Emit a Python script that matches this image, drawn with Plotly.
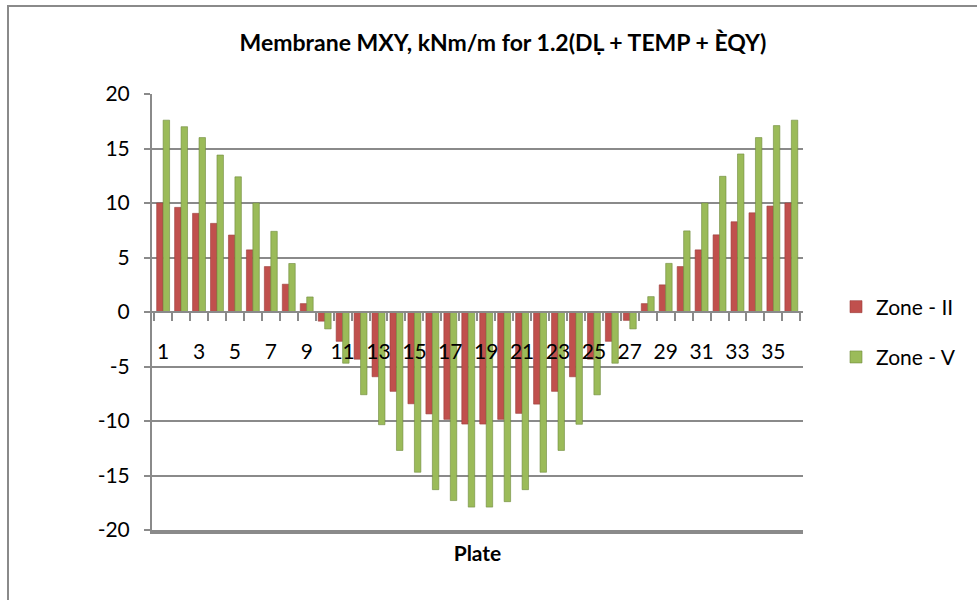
import plotly.graph_objects as go

plates = list(range(1, 37))
zone_ii = [10.0, 9.6, 9.05, 8.13, 7.06, 5.7, 4.17, 2.55, 0.77,
           -0.84, -2.69, -4.33, -5.94, -7.28, -8.42, -9.35, -9.85, -10.28,
           -10.28, -9.85, -9.3, -8.45, -7.28, -5.94, -4.33, -2.69, -0.77,
           0.77, 2.49, 4.17, 5.7, 7.08, 8.28, 9.1, 9.72, 10.0]
zone_v = [17.6, 17.0, 16.0, 14.4, 12.4, 10.0, 7.4, 4.45, 1.38,
          -1.55, -4.7, -7.59, -10.34, -12.7, -14.7, -16.3, -17.3, -17.9,
          -17.9, -17.4, -16.3, -14.7, -12.7, -10.3, -7.6, -4.7, -1.55,
          1.41, 4.46, 7.44, 10.0, 12.45, 14.5, 16.0, 17.1, 17.6]
x_labels = [str(v) for v in range(1, 37, 2)]
y_ticks = [-20, -15, -10, -5, 0, 5, 10, 15, 20]
y_labels = [str(v) for v in y_ticks]

title = "Membrane MXY, kNm/m for 1.2(D\u1e36 + TEMP + \u00c8QY)"

W, H = 977, 600
L, R, T, B = 152, 174, 94, 70
pw, ph = W - L - R, H - T - B

def px_x(p):
    return (p - L) / pw

def px_y(p):
    return 1 - (p - T) / ph

FONT = "Lato, Open Sans, sans-serif"
GRID = "#8a8a8a"
FS = 21

fig = go.Figure()
fig.add_trace(go.Bar(x=plates, y=zone_ii, name="Zone - II",
                     marker=dict(color="#C0504D", line=dict(color="#9A3E3B", width=0.6)),
                     legendgroup="a"))
fig.add_trace(go.Bar(x=plates, y=zone_v, name="Zone - V",
                     marker=dict(color="#9BBB59", line=dict(color="#6F8A3C", width=0.6)),
                     legendgroup="b"))

xr = [0.38, 36.65]
fig.update_layout(
    width=W, height=H,
    margin=dict(l=L, r=R, t=T, b=B),
    paper_bgcolor="white", plot_bgcolor="white",
    font=dict(family=FONT, size=FS, color="black"),
    barmode="group", bargap=0.28, bargroupgap=0.0,
    title=dict(text=title, x=503 / W, xanchor="center", xref="container",
               y=1 - 43 / H, yanchor="middle", yref="container",
               font=dict(family=FONT, size=23, color="black", weight="bold")),
    xaxis=dict(range=xr, anchor="free", position=0.5,
               tickmode="array", tickvals=list(range(1, 37, 2)), ticktext=x_labels,
               ticks="", showgrid=False, zeroline=False,
               showline=True, linecolor=GRID, linewidth=2,
               ticklabelstandoff=21,
               minor=dict(ticks="outside", tick0=0.5, dtick=1, ticklen=8,
                          tickcolor=GRID, tickwidth=2, showgrid=False),
               tickfont=dict(size=FS)),
    xaxis2=dict(range=xr, overlaying="x", anchor="y", side="bottom",
                showticklabels=False, ticks="", showgrid=False, zeroline=False,
                showline=True, linecolor=GRID, linewidth=4,
                title=dict(text="<b>Plate</b>", standoff=14, font=dict(size=21))),
    yaxis=dict(range=[-20, 20], tickmode="array", tickvals=y_ticks, ticktext=y_labels,
               ticks="outside", ticklen=6, tickcolor=GRID, tickwidth=2,
               ticklabelstandoff=10,
               showline=True, linecolor=GRID, linewidth=2,
               showgrid=True, gridcolor=GRID, gridwidth=2,
               zeroline=True, zerolinecolor=GRID, zerolinewidth=2,
               tickfont=dict(size=FS)),
    legend=dict(x=px_x(836), xanchor="left", y=px_y(332), yanchor="middle",
                tracegroupgap=20, font=dict(size=FS), itemwidth=30,
                bgcolor="rgba(0,0,0,0)"),
    shapes=[dict(type="rect", xref="paper", yref="paper",
                 x0=px_x(8), x1=px_x(982), y0=px_y(606), y1=px_y(6),
                 line=dict(color="#8a8a8a", width=2), fillcolor="rgba(0,0,0,0)",
                 layer="below")],
)
# invisible trace so the bottom axis (floor line + "Plate" title) renders
fig.add_trace(go.Scatter(x=[1], y=[0], xaxis="x2", yaxis="y", mode="markers",
                         marker=dict(opacity=0), showlegend=False, hoverinfo="skip"))

fig.write_html("out.html")
